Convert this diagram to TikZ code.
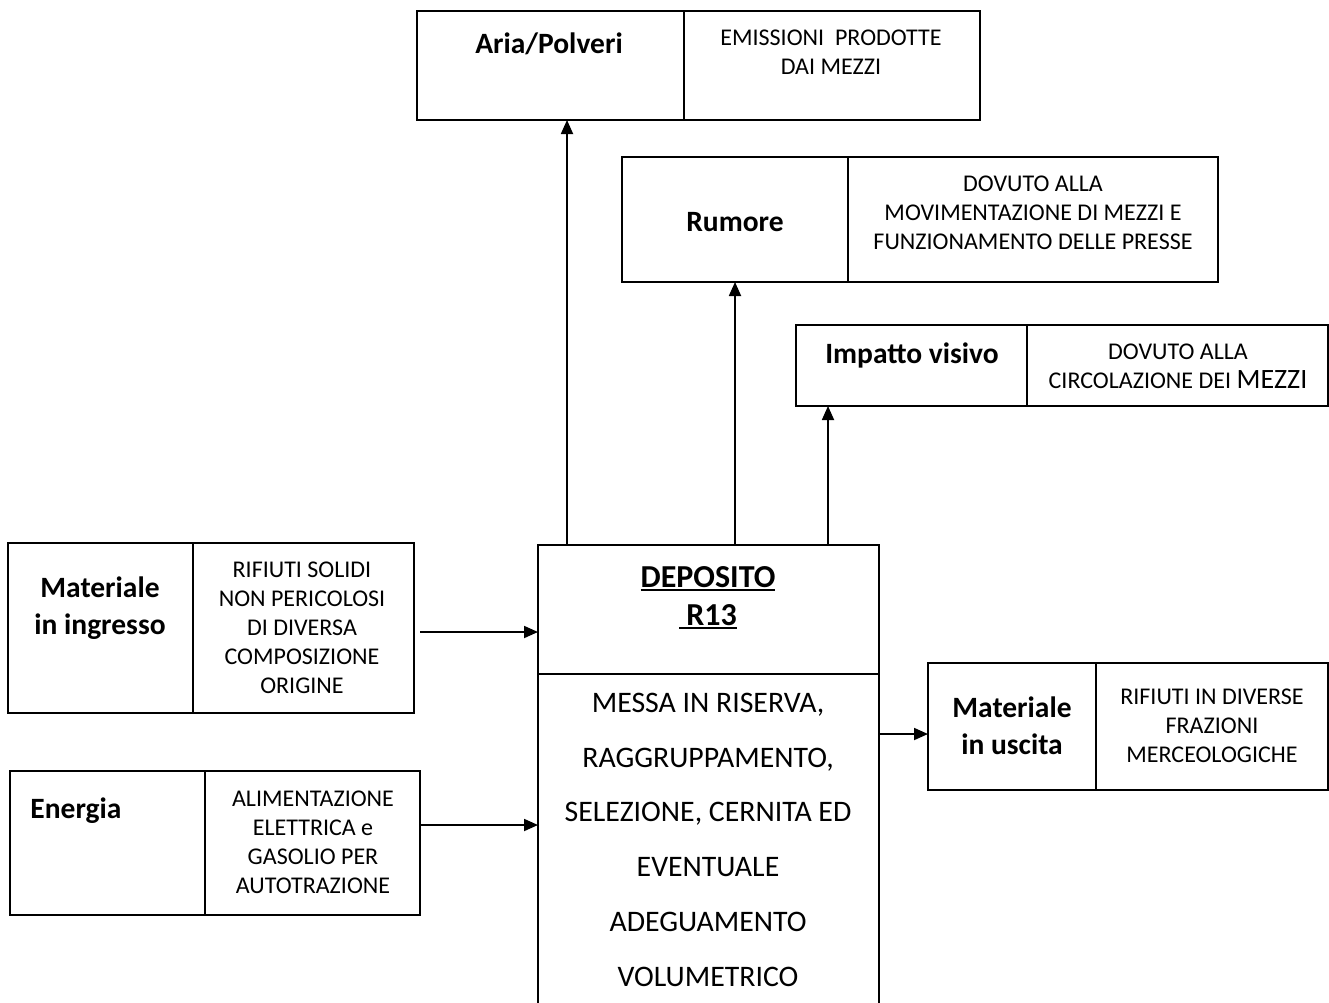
\documentclass[tikz,border=0pt]{standalone}
\usepackage{fontspec}
\setmainfont{Carlito}
\usetikzlibrary{arrows.meta,calc}

% first-line strut: puts the top of a text node 0.8em above its first baseline
\newcommand\fl{\rule{0pt}{0.8em}}
% thick underline
\newcommand\thickul[1]{\setbox0\hbox{#1}\rlap{\rule[-3.4pt]{\wd0}{1.9pt}}\box0}

\tikzset{
  cell/.style={draw, line width=1.8pt, inner sep=0pt, outer sep=0pt, anchor=north west},
  txt/.style={inner sep=0pt, anchor=north, align=center},
  ttl/.style={txt, font=\fontsize{29.5}{37}\selectfont\bfseries},
  big/.style={txt, font=\fontsize{32}{38}\selectfont\bfseries},
  dsc/.style={txt, font=\fontsize{24}{29}\selectfont},
  body/.style={txt, font=\fontsize{29.8}{54.8}\selectfont},
  arr/.style={line width=1.8pt, -{Triangle[length=14pt,width=12pt]}},
}

\begin{document}
\begin{tikzpicture}[x=1pt, y=-1pt]
\useasboundingbox (0,0) rectangle (1329,1002);

% ---- two-part boxes: left label cell + right description cell ----
% Aria/Polveri
\node[cell, minimum width=267, minimum height=109] (ariaL) at (417,11) {};
\node[cell, minimum width=296, minimum height=109] (ariaR) at (684,11) {};
% Rumore
\node[cell, minimum width=226, minimum height=125] (rumL) at (622,157) {};
\node[cell, minimum width=370, minimum height=125] (rumR) at (848,157) {};
% Impatto visivo
\node[cell, minimum width=231, minimum height=81] (impL) at (796,325) {};
\node[cell, minimum width=301, minimum height=81] (impR) at (1027,325) {};
% Materiale in ingresso
\node[cell, minimum width=185, minimum height=170] (ingL) at (8,543) {};
\node[cell, minimum width=221, minimum height=170] (ingR) at (193,543) {};
% Energia
\node[cell, minimum width=195, minimum height=144] (enL) at (10,771) {};
\node[cell, minimum width=215, minimum height=144] (enR) at (205,771) {};
% Materiale in uscita
\node[cell, minimum width=168, minimum height=127] (outL) at (928,663) {};
\node[cell, minimum width=232, minimum height=127] (outR) at (1096,663) {};
% Deposito R13 (runs off the lower edge)
\node[cell, minimum width=341, minimum height=129] (depoT) at (538,545) {};
\node[cell, minimum width=341, minimum height=340] (depoB) at (538,674) {};

% ---- texts ----
\node[ttl] (tAria) at (549,53-0.8*29.5) {\fl Aria/Polveri};
\node[dsc] (dAria) at (831,45-0.8*24) {\fl EMISSIONI\ \ PRODOTTE\\DAI MEZZI};

\node[ttl] (tRum) at (735,231-0.8*29.5) {\fl Rumore};
\node[dsc] (dRum) at (1033,191-0.8*24) {\fl DOVUTO ALLA\\MOVIMENTAZIONE DI MEZZI E\\FUNZIONAMENTO DELLE PRESSE};

\node[ttl] (tImp) at (912,363-0.8*29.5) {\fl Impatto visivo};
\node[dsc] (dImp) at (1178,359-0.8*24) {\fl DOVUTO ALLA\\CIRCOLAZIONE DEI {\fontsize{28}{29}\selectfont MEZZI}};

\node[ttl] (tIng) at (100,597-0.8*29.5) {\fl Materiale\\in ingresso};
\node[dsc] (dIng) at (302,577-0.8*24) {\fl RIFIUTI SOLIDI\\NON PERICOLOSI\\DI DIVERSA\\COMPOSIZIONE\\ORIGINE};

\node[ttl] (tEn) at (76,818-0.8*29.5) {\fl Energia};
\node[dsc] (dEn) at (313,806-0.8*24) {\fl ALIMENTAZIONE\\ELETTRICA e\\GASOLIO PER\\AUTOTRAZIONE};

\node[ttl] (tOut) at (1012,717-0.8*29.5) {\fl Materiale\\in uscita};
\node[dsc] (dOut) at (1212,704-0.8*24) {\fl RIFIUTI IN DIVERSE\\FRAZIONI\\MERCEOLOGICHE};

\node[big] (tDepo) at (708,587-0.8*32) {\fl\thickul{DEPOSITO}\\\thickul{\ R13}};
\node[body] (dDepo) at (708,712-0.8*29.8) {\fl MESSA IN RISERVA,\\RAGGRUPPAMENTO,\\SELEZIONE, CERNITA ED\\EVENTUALE\\ADEGUAMENTO\\VOLUMETRICO};

% ---- connectors ----
\coordinate (xa) at (567,0);
\coordinate (xr) at (735,0);
\coordinate (xi) at (828,0);
\coordinate (yin) at (0,632);
\coordinate (yen) at (0,825);
\coordinate (yout) at (0,734);

\draw[arr] (depoT.north -| xa) -- (ariaL.south -| xa);
\draw[arr] (depoT.north -| xr) -- (rumL.south -| xr);
\draw[arr] (depoT.north -| xi) -- (impL.south -| xi);
\draw[arr] ($(ingR.east |- yin)+(6,0)$) -- (depoT.west |- yin);
\draw[arr] (enR.east |- yen) -- (depoB.west |- yen);
\draw[arr] (depoB.east |- yout) -- (outL.west |- yout);
\end{tikzpicture}
\end{document}
